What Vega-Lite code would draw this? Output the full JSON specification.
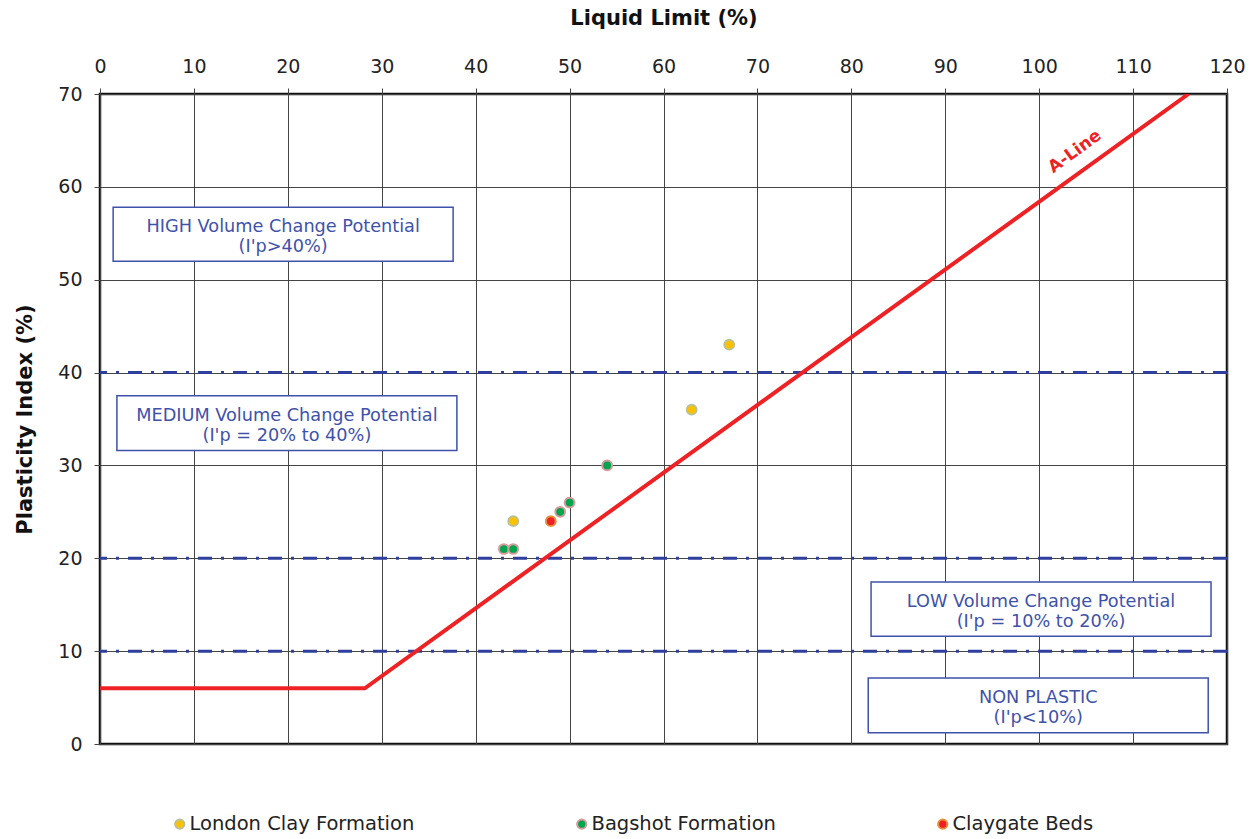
{
  "$schema": "https://vega.github.io/schema/vega-lite/v6.json",
  "width": 1127,
  "height": 650,
  "autosize": "none",
  "padding": {"left": 100, "top": 94, "right": 33, "bottom": 95},
  "background": "white",
  "config": {
    "font": "DejaVu Sans",
    "view": {"stroke": "#111111", "strokeWidth": 2.5},
    "axis": {
      "labelFont": "DejaVu Sans",
      "labelFontSize": 19,
      "labelColor": "#222222",
      "titleFont": "DejaVu Sans",
      "titleFontSize": 21,
      "titleFontWeight": "bold",
      "titleColor": "#111111",
      "gridColor": "#444444",
      "gridWidth": 1,
      "gridOpacity": 1,
      "tickColor": "#444444",
      "tickSize": 6,
      "domain": false
    }
  },
  "datasets": {
    "points": [
      {"LL": 44, "PI": 24, "Formation": "London Clay Formation"},
      {"LL": 63, "PI": 36, "Formation": "London Clay Formation"},
      {"LL": 67, "PI": 43, "Formation": "London Clay Formation"},
      {"LL": 43, "PI": 21, "Formation": "Bagshot Formation"},
      {"LL": 44, "PI": 21, "Formation": "Bagshot Formation"},
      {"LL": 49, "PI": 25, "Formation": "Bagshot Formation"},
      {"LL": 50, "PI": 26, "Formation": "Bagshot Formation"},
      {"LL": 54, "PI": 30, "Formation": "Bagshot Formation"},
      {"LL": 48, "PI": 24, "Formation": "Claygate Beds"}
    ],
    "aline": [
      {"LL": 0, "PI": 6},
      {"LL": 28.2, "PI": 6},
      {"LL": 115.9, "PI": 70}
    ],
    "zones": [{"PI": 10}, {"PI": 20}, {"PI": 40}],
    "boxes": [
      {"x1": 1.4, "x2": 37.6, "y1": 57.8, "y2": 52.0, "label": "HIGH Volume Change Potential\n(I'p>40%)"},
      {"x1": 1.8, "x2": 38.0, "y1": 37.5, "y2": 31.6, "label": "MEDIUM Volume Change Potential\n(I'p = 20% to 40%)"},
      {"x1": 82.1, "x2": 118.3, "y1": 17.45, "y2": 11.6, "label": "LOW Volume Change Potential\n(I'p = 10% to 20%)"},
      {"x1": 81.8, "x2": 118.0, "y1": 7.1, "y2": 1.2, "label": "NON PLASTIC\n(I'p<10%)"}
    ],
    "alabel": [{"LL": 103.8, "PI": 63.8, "text": "A-Line"}]
  },
  "encoding": {
    "x": {
      "type": "quantitative",
      "scale": {"domain": [0, 120], "nice": false, "zero": false},
      "axis": {
        "orient": "top",
        "title": "Liquid Limit (%)",
        "values": [0, 10, 20, 30, 40, 50, 60, 70, 80, 90, 100, 110, 120],
        "grid": true,
        "labelPadding": 12,
        "titlePadding": 29,
        "labelFlush": false
      }
    },
    "y": {
      "type": "quantitative",
      "scale": {"domain": [0, 70], "nice": false, "zero": false},
      "axis": {
        "title": "Plasticity Index (%)",
        "values": [0, 10, 20, 30, 40, 50, 60, 70],
        "grid": true,
        "labelPadding": 12,
        "titlePadding": 22,
        "labelFlush": false
      }
    }
  },
  "layer": [
    {
      "data": {"name": "zones"},
      "mark": {"type": "rule", "color": "#2E3F9E", "strokeWidth": 3, "strokeDash": [14, 9, 3, 9]},
      "encoding": {"y": {"field": "PI"}}
    },
    {
      "data": {"name": "aline"},
      "mark": {"type": "line", "color": "#EE2224", "strokeWidth": 4, "clip": true},
      "encoding": {"x": {"field": "LL"}, "y": {"field": "PI"}}
    },
    {
      "data": {"name": "boxes"},
      "mark": {"type": "rect", "fill": "white", "stroke": "#3E52AA", "strokeWidth": 1.5},
      "encoding": {
        "x": {"field": "x1"},
        "x2": {"field": "x2"},
        "y": {"field": "y1"},
        "y2": {"field": "y2"}
      }
    },
    {
      "data": {"name": "boxes"},
      "transform": [
        {"calculate": "(datum.x1 + datum.x2) / 2", "as": "xc"},
        {"calculate": "(datum.y1 + datum.y2) / 2", "as": "yc"}
      ],
      "mark": {"type": "text", "color": "#3E52AA", "fontSize": 17.7, "lineBreak": "\n", "lineHeight": 20, "align": "center", "baseline": "middle", "dy": -7},
      "encoding": {
        "x": {"field": "xc"},
        "y": {"field": "yc"},
        "text": {"field": "label"}
      }
    },
    {
      "data": {"name": "alabel"},
      "mark": {"type": "text", "color": "#EE2224", "fontSize": 17, "fontWeight": "bold", "angle": 324, "align": "center", "baseline": "middle"},
      "encoding": {
        "x": {"field": "LL"},
        "y": {"field": "PI"},
        "text": {"field": "text"}
      }
    },
    {
      "data": {"name": "points"},
      "mark": {"type": "point", "filled": false, "size": 95, "strokeWidth": 2, "opacity": 1, "fillOpacity": 1, "strokeOpacity": 1},
      "encoding": {
        "x": {"field": "LL"},
        "y": {"field": "PI"},
        "fill": {
          "field": "Formation",
          "type": "nominal",
          "scale": {
            "domain": ["London Clay Formation", "Bagshot Formation", "Claygate Beds"],
            "range": ["#FFC000", "#00A550", "#EE2224"]
          },
          "legend": {
            "orient": "none",
            "legendX": 70,
            "legendY": 720,
            "direction": "horizontal",
            "title": null,
            "symbolType": "circle",
            "symbolSize": 85,
            "symbolStrokeWidth": 2,
            "labelFont": "DejaVu Sans",
            "labelFontSize": 19.5,
            "labelLimit": 500,
            "labelColor": "#222222",
            "labelOffset": 0,
            "columnPadding": 157
          }
        },
        "stroke": {
          "field": "Formation",
          "type": "nominal",
          "scale": {
            "domain": ["London Clay Formation", "Bagshot Formation", "Claygate Beds"],
            "range": ["#B5C29A", "#D99A9A", "#E8913A"]
          },
          "legend": null
        }
      }
    }
  ]
}
